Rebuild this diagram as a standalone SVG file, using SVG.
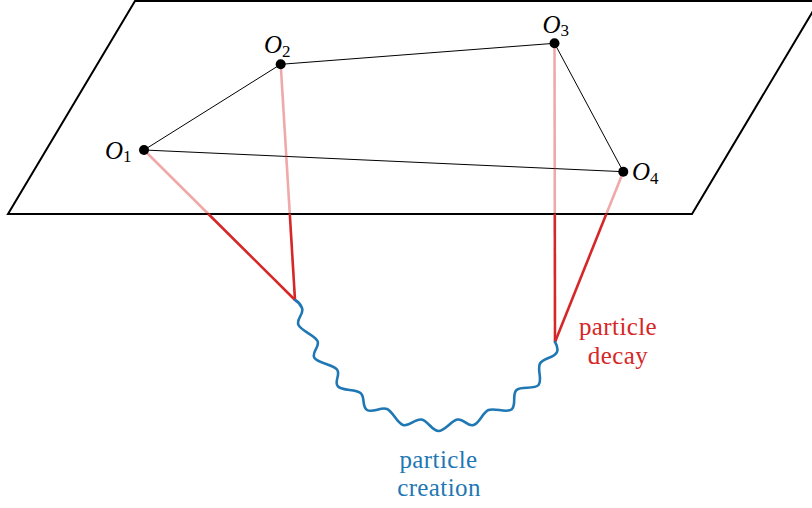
<svg xmlns="http://www.w3.org/2000/svg" width="812" height="508" viewBox="0 0 812 508">
<style>
.plane{fill:none;stroke:#000;stroke-width:2;stroke-linejoin:miter}
.edge{fill:none;stroke:#000;stroke-width:1}
.pink{fill:none;stroke:#d62728;stroke-opacity:0.4;stroke-width:2.6}
.red{fill:none;stroke:#d62728;stroke-width:2.6}
.snake{fill:none;stroke:#1f77b4;stroke-width:2.6;stroke-linecap:round;stroke-linejoin:round}
.dot{fill:#000}
.lbl{font-family:"Liberation Serif",serif;font-style:italic;font-size:25px;fill:#000}
.sub{font-size:17px;font-style:normal}
.txt{font-family:"Liberation Serif",serif;font-size:25px;text-anchor:middle;letter-spacing:0.4px}
</style>
<g id="plane">
<polygon class="plane" points="8,214 692,214 819,1 135,1"/>
</g>
<g id="connectors">
<line class="edge" x1="144" y1="150" x2="280.7" y2="64.3"/>
<line class="edge" x1="280.7" y1="64.3" x2="554.5" y2="43.3"/>
<line class="edge" x1="554.5" y1="43.3" x2="623.3" y2="171.7"/>
<line class="edge" x1="144" y1="150" x2="623.3" y2="171.7"/>
<line class="pink" x1="144" y1="150" x2="208.4" y2="214"/>
<line class="red" x1="208.4" y1="214" x2="295" y2="300"/>
<line class="pink" x1="280.7" y1="64.3" x2="289.8" y2="214"/>
<line class="red" x1="289.8" y1="214" x2="295" y2="300"/>
<line class="pink" x1="554.5" y1="43.3" x2="554.8" y2="214"/>
<line class="red" x1="554.8" y1="214" x2="555" y2="342"/>
<line class="pink" x1="623.3" y1="171.7" x2="606.3" y2="214"/>
<line class="red" x1="606.3" y1="214" x2="555" y2="342"/>
<path class="snake" d="M295,300 C297.9,301.6 300.7,304.8 302,308 C304.5,314 295.7,319.1 298.5,325 C301.3,330.9 314.7,335.2 317.5,341 C320.3,346.9 310.8,352.6 314.5,358 C318.2,363.4 332.9,364.5 337,369.5 C341.1,374.5 333.4,381.9 338,386.5 C342.6,391.1 355.5,388.9 360.5,393 C365.6,397.1 361.4,406.6 367,410 C372.6,413.4 381,406.5 387,409 C393,411.5 396.8,423.1 403,425 C409.2,426.9 415.1,418.4 421.5,419.5 C427.9,420.6 432,431 438.5,431 C445,431 451.1,420.6 457.5,419.5 C463.9,418.4 467.3,426.9 473.5,425 C479.7,423.1 482.5,412.5 488.5,410 C494.5,407.5 506.2,413.3 511.5,409.5 C516.8,405.7 511.7,394.4 516.5,390 C521.3,385.6 534.2,389.9 538.5,385 C542.8,380.1 536.8,369.2 540,363.5 C543.2,357.8 554.7,358.1 557,352 C558.2,348.9 556.5,344.5 555,342"/>
</g>
<g id="O1">
<circle class="dot" cx="144" cy="150" r="5"/>
<text class="lbl" x="105" y="158.5">O<tspan class="sub" dy="3.5">1</tspan></text>
</g>
<g id="O2">
<circle class="dot" cx="280.7" cy="64.3" r="5"/>
<text class="lbl" x="264" y="53">O<tspan class="sub" dy="3.5">2</tspan></text>
</g>
<g id="O3">
<circle class="dot" cx="554.5" cy="43.3" r="5"/>
<text class="lbl" x="542.5" y="32.5">O<tspan class="sub" dy="3.5">3</tspan></text>
</g>
<g id="O4">
<circle class="dot" cx="623.3" cy="171.7" r="5"/>
<text class="lbl" x="632" y="180">O<tspan class="sub" dy="3.5">4</tspan></text>
</g>
<g id="decay-label">
<text class="txt" fill="#d62728" x="618" y="335">particle</text>
<text class="txt" fill="#d62728" x="618" y="364">decay</text>
</g>
<g id="creation-label">
<text class="txt" fill="#1f77b4" x="438.5" y="468">particle</text>
<text class="txt" fill="#1f77b4" x="439" y="496">creation</text>
</g>
</svg>
